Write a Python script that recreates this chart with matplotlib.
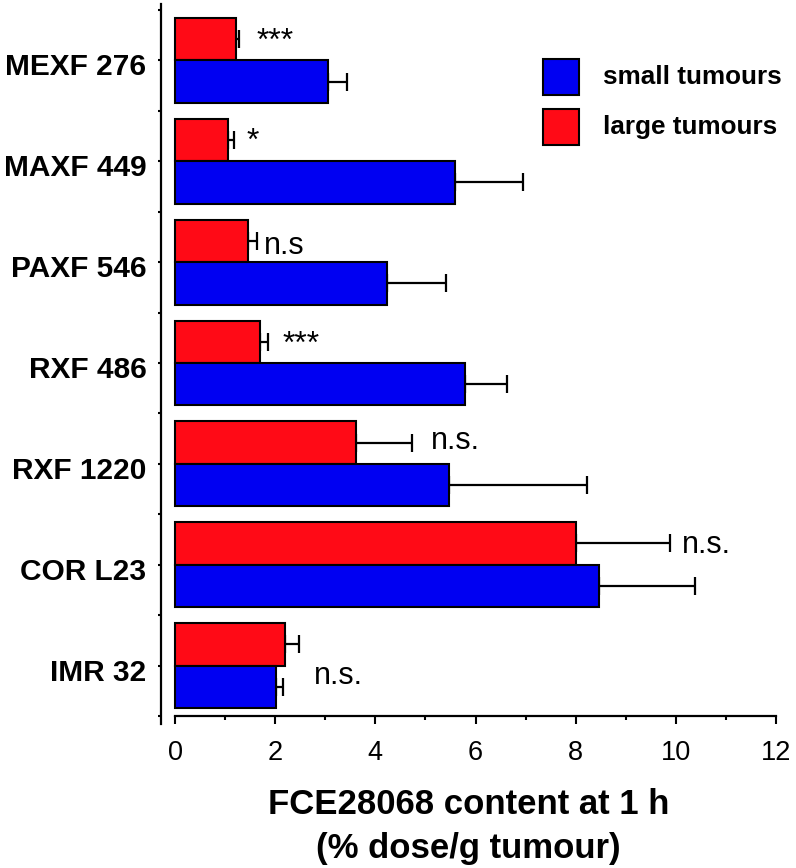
import matplotlib
matplotlib.use("Agg")
import matplotlib.pyplot as plt
import matplotlib.transforms as mtransforms
from matplotlib.patches import Rectangle
import numpy as np

plt.rcParams['font.family'] = ['Liberation Sans', 'DejaVu Sans']

# ---- data (top to bottom) ----
categories = ["MEXF 276", "MAXF 449", "PAXF 546", "RXF 486", "RXF 1220", "COR L23", "IMR 32"]
small_mean = [3.05, 5.60, 4.24, 5.79, 5.47, 8.47, 2.02]
small_err = [0.38, 1.34, 1.18, 0.83, 2.75, 1.91, 0.14]
large_mean = [1.22, 1.05, 1.45, 1.70, 3.61, 8.00, 2.20]
large_err = [0.06, 0.13, 0.19, 0.15, 1.13, 1.88, 0.28]
significance = ["***", "*", "n.s", "***", "n.s.", "n.s.", "n.s."]
series_names = ["small tumours", "large tumours"]
x_ticks = [0, 2, 4, 6, 8, 10, 12]

# ---- style / placement ----
RED = '#FF0A16'
BLUE = '#0000F2'
DPI = 100
W, H = 796, 868
sig_dx_px = [17, 12, 7, 15, 19, 12, 15]
sig_dy_px = [1.5, 2, -5.5, 0.5, 1.5, -2, -31.5]

fig = plt.figure(figsize=(W / DPI, H / DPI), dpi=DPI)
left_px, right_px = 161, 776
top_px, bot_px = 4, 724
ax = fig.add_axes([left_px / W, 1 - bot_px / H, (right_px - left_px) / W, (bot_px - top_px) / H])

n = len(categories)
ypos = np.arange(n)[::-1]
bh = 0.42

ax.barh(ypos + bh / 2, large_mean, height=bh, color=RED, edgecolor='black', linewidth=1.5, zorder=3)
ax.barh(ypos - bh / 2, small_mean, height=bh, color=BLUE, edgecolor='black', linewidth=1.5, zorder=3)

ax.errorbar(large_mean, ypos + bh / 2, xerr=[np.zeros(n), large_err], fmt='none',
            ecolor='black', elinewidth=1.6, capsize=6.5, capthick=1.6, zorder=2)
ax.errorbar(small_mean, ypos - bh / 2, xerr=[np.zeros(n), small_err], fmt='none',
            ecolor='black', elinewidth=1.6, capsize=6.5, capthick=1.6, zorder=2)

for i in range(n):
    x0 = large_mean[i] + large_err[i]
    y0 = ypos[i] + bh / 2
    dy = sig_dy_px[i]
    if significance[i].startswith('*'):
        fs = 23
        dy -= 0.12 * fs * DPI / 72
    else:
        fs = 22
    ax.annotate(significance[i], xy=(x0, y0), xytext=(sig_dx_px[i] * 72 / DPI, dy * 72 / DPI),
                textcoords='offset points', ha='left', va='center', fontsize=fs)

ax.set_xlim(-0.28, 12)
ax.set_ylim(-0.58, 6.56)

for s in ['top', 'right']:
    ax.spines[s].set_visible(False)
ax.spines['left'].set_linewidth(1.6)
ax.spines['bottom'].set_linewidth(1.6)
ax.spines['bottom'].set_position(('data', -0.5))
ax.spines['bottom'].set_bounds(0, 12)

ax.set_xticks(x_ticks)
ax.set_xticklabels([str(t) for t in x_ticks], fontsize=19.5)
ax.set_xticks(np.arange(1, 12, 2), minor=True)
ax.tick_params(axis='x', which='major', direction='out', length=6, width=1.5, pad=11)
ax.tick_params(axis='x', which='minor', direction='out', length=3, width=1.5)

ax.set_yticks(ypos)
ax.set_yticklabels(categories, fontsize=21.5, fontweight='bold')
ax.set_yticks(np.arange(-0.5, n, 1.0), minor=True)
ax.tick_params(axis='y', which='both', direction='out', length=2.5, width=1.5, pad=8)
offset = mtransforms.ScaledTranslation(0, -4 / DPI, fig.dpi_scale_trans)
for lab in ax.get_yticklabels():
    lab.set_transform(lab.get_transform() + offset)

ax.set_xlabel("FCE28068 content at 1 h\n(% dose/g tumour)", fontsize=25, fontweight='bold',
              labelpad=16, linespacing=1.45)

# legend drawn as figure-level patches and text
legend_colors = [BLUE, RED]
box = 36
for k, (name, col) in enumerate(zip(series_names, legend_colors)):
    top = 59 + 50 * k
    fig.patches.append(Rectangle((543 / W, 1 - (top + box) / H), box / W, box / H,
                                 transform=fig.transFigure, facecolor=col,
                                 edgecolor='black', linewidth=1.5))
    fig.text(603 / W, 1 - (top + box / 2) / H, name, fontsize=18.8, fontweight='bold',
             ha='left', va='center')

fig.savefig("out.png", dpi=DPI)
